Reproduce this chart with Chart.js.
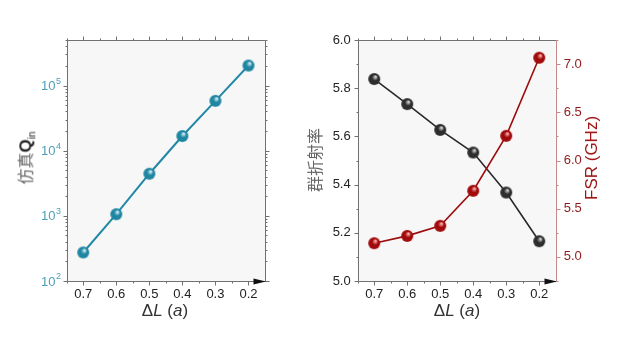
<!DOCTYPE html>
<html>
<head>
<meta charset="utf-8">
<script src="https://cdn.jsdelivr.net/npm/chart.js@4"></script>
<style>
  html, body { margin: 0; padding: 0; background: #fff; }
  #wrap { position: relative; width: 638px; height: 344px; overflow: hidden; font-family: "Liberation Sans", Arial, sans-serif; }
  .pane { position: absolute; top: 0; width: 319px; height: 344px; }
  .title { position: absolute; white-space: nowrap; font-size: 17px; color: #333; }
  .rot { transform: translate(-50%, -50%) rotate(-90deg); }
  .cjk { font-family: "Noto Sans CJK SC", sans-serif; color: #666; font-size: 16px; }
  i { font-style: italic; }
</style>
</head>
<body>
<div id="wrap">
  <div class="pane" style="left:0"><canvas id="left" width="319" height="344"></canvas></div>
  <div class="pane" style="left:319px"><canvas id="right" width="319" height="344"></canvas></div>

  <div class="title" style="left:165px; top:311px; transform:translate(-50%,-50%)">&Delta;<i>L</i> (<i>a</i>)</div>
  <div class="title" style="left:457px; top:311px; transform:translate(-50%,-50%)">&Delta;<i>L</i> (<i>a</i>)</div>
  <div class="title rot" style="left:25px; top:158px"><span class="cjk">仿真</span><span style="color:#222;font-weight:bold">Q</span><sub style="font-size:10px;color:#222">in</sub></div>
  <div class="title rot cjk" style="left:314px; top:160px">群折射率</div>
  <div class="title rot" style="left:592px; top:158px; color:#a01515">FSR (GHz)</div>
</div>

<script>
// step size ΔL (in units of a)
const dL = [0.7, 0.6, 0.5, 0.4, 0.3, 0.2];
// simulated intrinsic Q
const qSim = [274, 1060, 4430, 16800, 58200, 203000];
// group index
const groupIndex = [5.838, 5.734, 5.627, 5.533, 5.367, 5.165];
// free spectral range, GHz
const fsr = [5.142, 5.218, 5.322, 5.686, 6.256, 7.066];

const xTicks = [0.7, 0.6, 0.5, 0.4, 0.3, 0.2];
const qDecades = [2, 3, 4, 5];
const nTicks = [5.0, 5.2, 5.4, 5.6, 5.8, 6.0];
const fsrTicks = [5.0, 5.5, 6.0, 6.5, 7.0];

const FONT = '"Liberation Sans", Arial, sans-serif';

// shaded ball used as point marker
function ball(base, light, r) {
  const c = document.createElement('canvas');
  c.width = c.height = 2 * r + 2;
  const g = c.getContext('2d');
  const cx = r + 1, cy = r + 1;
  const grad = g.createRadialGradient(cx + r * 0.25, cy - r * 0.4, 0.5, cx, cy, r);
  grad.addColorStop(0, light);
  grad.addColorStop(0.45, base);
  grad.addColorStop(1, base);
  g.fillStyle = grad;
  g.beginPath();
  g.arc(cx, cy, r, 0, Math.PI * 2);
  g.fill();
  return c;
}

const pts = (ys) => dL.map((x, i) => ({x: x, y: ys[i]}));
const fixTicks = (vals) => (s) => { s.ticks = vals.map(v => ({value: v})); };

function tickLine(ctx, x1, y1, x2, y2) {
  ctx.beginPath();
  ctx.moveTo(x1, y1);
  ctx.lineTo(x2, y2);
  ctx.stroke();
}

// frame, mirrored ticks, minor ticks and the arrow on the x axis
const framePlugin = {
  id: 'frame',
  beforeDraw(chart) {
    const {ctx, chartArea: a} = chart;
    ctx.save();
    ctx.fillStyle = '#f7f7f7';
    ctx.fillRect(a.left, a.top, a.right - a.left, a.bottom - a.top);
    ctx.restore();
  },
  afterDraw(chart) {
    const o = chart.options.plugins.frame;
    const {ctx, chartArea: a} = chart;
    const sx = chart.scales.x, sy = chart.scales.y, sy1 = chart.scales.y1;
    const L = Math.round(a.left) + 0.5, R = Math.round(a.right) + 0.5;
    const T = Math.round(a.top) + 0.5, B = Math.round(a.bottom) + 0.5;
    ctx.save();
    ctx.lineWidth = 1;
    ctx.strokeStyle = '#707070';
    tickLine(ctx, L, T, R, T);
    tickLine(ctx, L, T, L, B);
    tickLine(ctx, L, B, R, B);

    // x ticks, bottom and top
    for (let v = 0.2; v < 0.76; v += 0.05) {
      const major = Math.abs(v * 10 - Math.round(v * 10)) < 1e-6;
      const len = major ? 4 : 2;
      const px = Math.round(sx.getPixelForValue(v)) + 0.5;
      tickLine(ctx, px, B, px, B + len);
      tickLine(ctx, px, T, px, T - len);
    }

    // left y ticks (and mirrored on right if no second axis)
    o.yMajor.forEach(v => {
      const py = Math.round(sy.getPixelForValue(v)) + 0.5;
      tickLine(ctx, L, py, L - 4, py);
      if (!sy1) tickLine(ctx, R, py, R + 4, py);
    });
    o.yMinor.forEach(v => {
      const py = Math.round(sy.getPixelForValue(v)) + 0.5;
      tickLine(ctx, L, py, L - 2, py);
      if (!sy1) tickLine(ctx, R, py, R + 2, py);
    });

    if (sy1) {
      ctx.strokeStyle = '#c48a8a';
      o.y1Major.forEach(v => {
        const py = Math.round(sy1.getPixelForValue(v)) + 0.5;
        tickLine(ctx, R, py, R + 4, py);
      });
      o.y1Minor.forEach(v => {
        const py = Math.round(sy1.getPixelForValue(v)) + 0.5;
        tickLine(ctx, R, py, R + 2, py);
      });
    } else {
      ctx.strokeStyle = '#707070';
    }
    tickLine(ctx, R, T, R, B);

    // arrow at the end of the x axis
    ctx.fillStyle = '#111';
    ctx.beginPath();
    ctx.moveTo(R + 0.5, B);
    ctx.lineTo(R - 12, B - 3);
    ctx.lineTo(R - 12, B + 3);
    ctx.closePath();
    ctx.fill();

    // 10^n labels for the log axis
    if (o.logLabels) {
      ctx.fillStyle = '#4d9fba';
      ctx.textBaseline = 'middle';
      qDecades.forEach(n => {
        const py = sy.getPixelForValue(Math.pow(10, n));
        ctx.font = '13px ' + FONT;
        const wBase = ctx.measureText('10').width;
        ctx.font = '9px ' + FONT;
        const wExp = ctx.measureText(String(n)).width;
        const x0 = L - 7 - wBase - wExp;
        ctx.font = '13px ' + FONT;
        ctx.fillText('10', x0, py + 1);
        ctx.font = '9px ' + FONT;
        ctx.fillText(String(n), x0 + wBase + 0.5, py - 4);
      });
    }
    ctx.restore();
  }
};

const xScale = {
  type: 'linear',
  reverse: true,
  min: 0.15,
  max: 0.75,
  grid: {display: false, drawTicks: false},
  border: {display: false},
  afterBuildTicks: fixTicks(xTicks),
  ticks: {
    padding: 6,
    color: '#222',
    font: {size: 13, family: FONT},
    callback: v => v.toFixed(1)
  },
  afterFit: s => { s.height = 63; }
};

// log minor tick positions
const logMinor = [];
qDecades.forEach(n => {
  for (let k = 2; k <= 9; k++) {
    const v = k * Math.pow(10, n);
    if (v <= 5e5) logMinor.push(v);
  }
});

new Chart(document.getElementById('left'), {
  type: 'line',
  data: {
    datasets: [{
      data: pts(qSim),
      borderColor: '#2188a5',
      borderWidth: 2,
      pointStyle: ball('#1f86a2', '#d6f1f8', 6),
      pointRadius: 6,
      tension: 0
    }]
  },
  options: {
    responsive: false,
    animation: false,
    layout: {padding: {top: 40, right: 54, left: 0, bottom: 0}},
    plugins: {
      legend: {display: false},
      tooltip: {enabled: false},
      frame: {
        yMajor: qDecades.map(n => Math.pow(10, n)),
        yMinor: logMinor,
        logLabels: true
      }
    },
    scales: {
      x: xScale,
      y: {
        type: 'logarithmic',
        min: 100,
        max: 5e5,
        grid: {display: false, drawTicks: false},
        border: {display: false},
        ticks: {display: false},
        afterFit: s => { s.width = 66.7; }
      }
    }
  },
  plugins: [framePlugin]
});

const nMinor = [5.1, 5.3, 5.5, 5.7, 5.9];
const fsrMinor = [4.75, 5.25, 5.75, 6.25, 6.75, 7.25];

new Chart(document.getElementById('right'), {
  type: 'line',
  data: {
    datasets: [{
      data: pts(fsr),
      yAxisID: 'y1',
      borderColor: '#9c0c0c',
      borderWidth: 1.6,
      pointStyle: ball('#a00a0a', '#ffb3b3', 6),
      pointRadius: 6,
      tension: 0
    }, {
      data: pts(groupIndex),
      yAxisID: 'y',
      borderColor: '#2a2a2a',
      borderWidth: 1.6,
      pointStyle: ball('#2d2d2d', '#d8d8d8', 6),
      pointRadius: 6,
      tension: 0
    }]
  },
  options: {
    responsive: false,
    animation: false,
    layout: {padding: {top: 40, right: 0, left: 0, bottom: 0}},
    plugins: {
      legend: {display: false},
      tooltip: {enabled: false},
      frame: {
        yMajor: nTicks,
        yMinor: nMinor,
        y1Major: fsrTicks,
        y1Minor: fsrMinor
      }
    },
    scales: {
      x: xScale,
      y: {
        type: 'linear',
        position: 'left',
        min: 5.0,
        max: 6.0,
        grid: {display: false, drawTicks: false},
        border: {display: false},
        afterBuildTicks: fixTicks(nTicks),
        ticks: {
          padding: 7,
          color: '#222',
          font: {size: 13, family: FONT},
          callback: v => v.toFixed(1)
        },
        afterFit: s => { s.width = 38.7; }
      },
      y1: {
        type: 'linear',
        position: 'right',
        min: 4.75,
        max: 7.25,
        grid: {display: false, drawTicks: false},
        border: {display: false},
        afterBuildTicks: fixTicks(fsrTicks),
        ticks: {
          padding: 8,
          color: '#8e1a1a',
          font: {size: 13, family: FONT},
          callback: v => v.toFixed(1)
        },
        afterFit: s => { s.width = 82.3; }
      }
    }
  },
  plugins: [framePlugin]
});
</script>
</body>
</html>
